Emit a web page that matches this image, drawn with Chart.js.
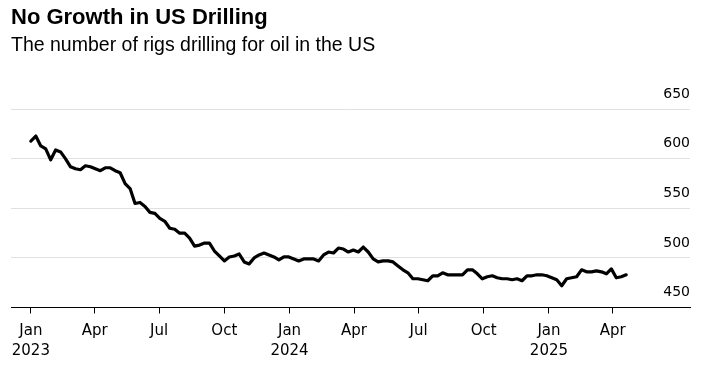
<!DOCTYPE html>
<html>
<head>
<meta charset="utf-8">
<script src="https://cdn.jsdelivr.net/npm/chart.js@4"></script>
<style>
  html, body { margin: 0; padding: 0; background: #fff; }
  #wrap { width: 702px; height: 365px; }
</style>
</head>
<body>
<div id="wrap"><canvas id="rigChart" width="702" height="365"></canvas></div>
<script>
// weekly oil rig count, dated by the start of each reporting week
const weekOf = [
  "2023-01-01","2023-01-08","2023-01-15","2023-01-22",
  "2023-01-29","2023-02-05","2023-02-12","2023-02-19",
  "2023-02-26","2023-03-05","2023-03-12","2023-03-19","2023-03-26",
  "2023-04-02","2023-04-09","2023-04-16","2023-04-23",
  "2023-04-30","2023-05-07","2023-05-14","2023-05-21",
  "2023-05-28","2023-06-04","2023-06-11","2023-06-18","2023-06-25",
  "2023-07-02","2023-07-09","2023-07-16","2023-07-23",
  "2023-07-30","2023-08-06","2023-08-13","2023-08-20",
  "2023-08-27","2023-09-03","2023-09-10","2023-09-17","2023-09-24",
  "2023-10-01","2023-10-08","2023-10-15","2023-10-22",
  "2023-10-29","2023-11-05","2023-11-12","2023-11-19",
  "2023-11-26","2023-12-03","2023-12-10","2023-12-17","2023-12-24",
  "2023-12-31","2024-01-07","2024-01-14","2024-01-21",
  "2024-01-28","2024-02-04","2024-02-11","2024-02-18",
  "2024-02-25","2024-03-03","2024-03-10","2024-03-17","2024-03-24",
  "2024-03-31","2024-04-07","2024-04-14","2024-04-21",
  "2024-04-28","2024-05-05","2024-05-12","2024-05-19","2024-05-26",
  "2024-06-02","2024-06-09","2024-06-16","2024-06-23",
  "2024-06-30","2024-07-07","2024-07-14","2024-07-21",
  "2024-07-28","2024-08-04","2024-08-11","2024-08-18","2024-08-25",
  "2024-09-01","2024-09-08","2024-09-15","2024-09-22",
  "2024-09-29","2024-10-06","2024-10-13","2024-10-20",
  "2024-10-27","2024-11-03","2024-11-10","2024-11-17","2024-11-24",
  "2024-12-01","2024-12-08","2024-12-15","2024-12-22",
  "2024-12-29","2025-01-05","2025-01-12","2025-01-19","2025-01-26",
  "2025-02-02","2025-02-09","2025-02-16","2025-02-23",
  "2025-03-02","2025-03-09","2025-03-16","2025-03-23","2025-03-30",
  "2025-04-06","2025-04-13","2025-04-20"
];

const oilRigs = [
  618, 623, 613, 610, 599, 609, 607, 600, 592, 590, 589, 593, 592,
  590, 588, 591, 591, 588, 586, 575, 570, 555, 556, 552, 546, 545,
  540, 537, 530, 529, 525, 525, 520, 512, 513, 515, 515, 507, 502,
  497, 501, 502, 504, 496, 494, 500, 503, 505, 503, 501, 498, 501,
  501, 499, 497, 499, 499, 499, 497, 503, 506, 505, 510, 509, 506,
  508, 506, 511, 506, 499, 496, 497, 497, 496, 492, 488, 485, 479,
  479, 478, 477, 482, 482, 485, 483, 483, 483, 483, 488, 488, 484,
  479, 481, 482, 480, 479, 479, 478, 479, 477, 482, 482, 483, 483,
  482, 480, 478, 472, 479, 480, 481, 488, 486, 486, 487, 486, 484,
  489, 480, 481, 483
];

const tickDates = [
  "2023-01-01","2023-04-01","2023-07-01","2023-10-01",
  "2024-01-01","2024-04-01","2024-07-01","2024-10-01",
  "2025-01-01","2025-04-01"
];
const tickMonths = ["Jan","Apr","Jul","Oct","Jan","Apr","Jul","Oct","Jan","Apr"];
const tickYears  = ["2023","","","","2024","","","","2025",""];

const xStart = "2022-12-04";
const xEnd = "2025-07-19";

function toDay(s) {
  return Date.parse(s + "T00:00:00Z") / 864e5;
}

const points = weekOf.map((d, i) => ({ x: toDay(d), y: oilRigs[i] }));

const tickFont = { family: "'DejaVu Sans', sans-serif", size: 14 };

new Chart(document.getElementById("rigChart").getContext("2d"), {
  type: "line",
  data: {
    datasets: [{
      data: points,
      borderColor: "#000",
      borderWidth: 3.2,
      borderJoinStyle: "round",
      borderCapStyle: "round",
      pointRadius: 0,
      tension: 0,
      fill: false
    }]
  },
  options: {
    responsive: false,
    animation: false,
    layout: { padding: { left: 11, right: 12, top: 0, bottom: -3 } },
    plugins: {
      legend: { display: false },
      tooltip: { enabled: false },
      title: {
        display: true,
        text: "No Growth in US Drilling",
        align: "start",
        color: "#000",
        font: { family: "'Liberation Sans', Arial, sans-serif", size: 22, weight: "bold", lineHeight: 1.2 },
        padding: { top: 5, bottom: 0 }
      },
      subtitle: {
        display: true,
        text: "The number of rigs drilling for oil in the US",
        align: "start",
        color: "#000",
        font: { family: "'Liberation Sans', Arial, sans-serif", size: 19.5, lineHeight: 1.2 },
        padding: { top: 3, bottom: 51.5 }
      }
    },
    scales: {
      x: {
        type: "linear",
        min: toDay(xStart),
        max: toDay(xEnd),
        afterBuildTicks: scale => {
          scale.ticks = tickDates.map(d => ({ value: toDay(d) }));
        },
        grid: {
          display: true,
          drawOnChartArea: false,
          drawTicks: true,
          tickLength: 6,
          tickColor: "#000",
          tickWidth: 1
        },
        border: { display: true, color: "#000", width: 1 },
        ticks: {
          autoSkip: false,
          maxRotation: 0,
          padding: 7,
          color: "#000",
          font: { ...tickFont, size: 15, lineHeight: 1.35 },
          callback: (value, index) =>
            tickYears[index] ? [tickMonths[index], tickYears[index]] : tickMonths[index]
        }
      },
      y: {
        position: "right",
        min: 450,
        max: 650,
        grid: { color: "#e0e0e0", lineWidth: 1, drawTicks: false },
        border: { display: false },
        ticks: {
          stepSize: 50,
          mirror: true,
          padding: 0,
          labelOffset: -15,
          color: "#000",
          font: tickFont
        }
      }
    }
  }
});
</script>
</body>
</html>
